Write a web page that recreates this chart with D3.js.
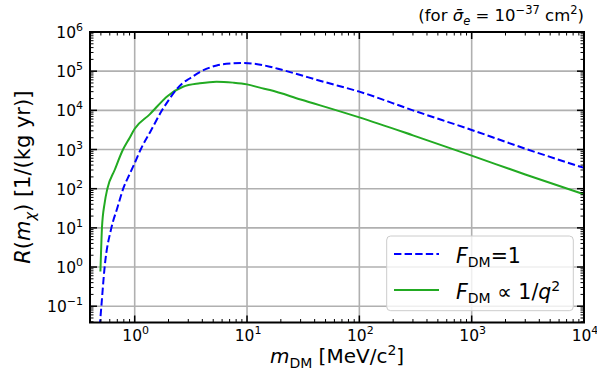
<!DOCTYPE html>
<html>
<head>
<meta charset="utf-8">
<script src="https://cdn.jsdelivr.net/npm/d3@7"></script>
<style>
  body { margin: 0; background: #fff; }
  text { font-family: "DejaVu Sans", sans-serif; fill: #000; }
</style>
</head>
<body>
<svg id="chart" width="597" height="374"></svg>
<script>
// mass in MeV/c^2, rate in 1/(kg yr)
const massF1 = [0.488, 0.505, 0.54, 0.62, 0.7, 0.79, 0.9, 1.0, 1.13, 1.4, 1.75, 2.0, 2.27, 2.68, 3.09, 3.8, 5.37, 7.5, 9, 12, 16, 20, 50, 100, 300, 1000, 3000, 10000]
const rateF1 = [0.03, 0.1, 1, 10, 32, 100, 233, 450, 1000, 3100, 1e4, 1.8e4, 3e4, 5e4, 6.5e4, 9.5e4, 1.4e5, 1.58e5, 1.61e5, 1.53e5, 1.3e5, 1.1e5, 5.2e4, 3.0e4, 1.0e4, 3.16e3, 1.05e3, 340]

const massQ2 = [0.495, 0.503, 0.511, 0.54, 0.571, 0.663, 0.787, 0.9, 1.0, 1.36, 1.98, 2.69, 3.8, 5.35, 7.5, 10, 13, 16, 30, 100, 300, 1000, 3000, 10000]
const rateQ2 = [0.77, 3, 10, 43, 100, 300, 1000, 1980, 3400, 7900, 2.37e4, 4.0e4, 4.9e4, 5.4e4, 5.1e4, 4.6e4, 3.8e4, 3.3e4, 1.9e4, 6.6e3, 2.3e3, 700, 230, 72]

const xTickExp = [0, 1, 2, 3, 4]
const yTickExp = [-1, 0, 1, 2, 3, 4, 5, 6]

const svg = d3.select("#chart")
const pLeft = 90, pRight = 584, pTop = 32, pBottom = 322.5

const x = d3.scaleLog().domain([0.4, 1e4]).range([pLeft, pRight])
const y = d3.scaleLog().domain([Math.pow(10, -1.416), 1e6]).range([pBottom, pTop])

// grid
const grid = svg.append("g")
grid.selectAll(".gx").data(xTickExp).enter().append("line")
    .attr("x1", d => x(Math.pow(10, d))).attr("x2", d => x(Math.pow(10, d)))
    .attr("y1", pTop).attr("y2", pBottom)
    .attr("stroke", "#b0b0b0").attr("stroke-width", 1.6)
grid.selectAll(".gy").data(yTickExp).enter().append("line")
    .attr("y1", d => y(Math.pow(10, d))).attr("y2", d => y(Math.pow(10, d)))
    .attr("x1", pLeft).attr("x2", pRight)
    .attr("stroke", "#b0b0b0").attr("stroke-width", 1.6)

svg.append("clipPath").attr("id", "plotclip")
    .append("rect").attr("x", pLeft).attr("y", pTop)
    .attr("width", pRight - pLeft).attr("height", pBottom - pTop)

const line = d3.line()
    .x(d => x(d[0]))
    .y(d => y(d[1]))
    .curve(d3.curveMonotoneX)

const curves = svg.append("g").attr("clip-path", "url(#plotclip)")
curves.append("path")
    .datum(d3.zip(massQ2, rateQ2))
    .attr("d", line)
    .attr("fill", "none")
    .attr("stroke", "#22aa22")
    .attr("stroke-width", 2)
curves.append("path")
    .datum(d3.zip(massF1, rateF1))
    .attr("d", line)
    .attr("fill", "none")
    .attr("stroke", "#0000ff")
    .attr("stroke-width", 2)
    .attr("stroke-dasharray", "7.4,3.2")

// ticks, pointing inward on all four sides
function logTicks(scale) {
    const [a, b] = scale.domain()
    const out = []
    for (let e = Math.floor(Math.log10(a)); e <= Math.ceil(Math.log10(b)); e++) {
        for (let m = 1; m <= 9; m++) {
            const v = m * Math.pow(10, e)
            if (v >= a * 0.9999 && v <= b * 1.0001) out.push({ v: v, major: m === 1 })
        }
    }
    return out
}
const ticks = svg.append("g").attr("stroke", "#000")
logTicks(x).forEach(t => {
    const len = t.major ? 7 : 3.5
    const px = x(t.v)
    ticks.append("line").attr("x1", px).attr("x2", px).attr("y1", pBottom).attr("y2", pBottom - len)
        .attr("stroke-width", t.major ? 1.5 : 1)
    ticks.append("line").attr("x1", px).attr("x2", px).attr("y1", pTop).attr("y2", pTop + len)
        .attr("stroke-width", t.major ? 1.5 : 1)
})
logTicks(y).forEach(t => {
    const len = t.major ? 7 : 3.5
    const py = y(t.v)
    ticks.append("line").attr("y1", py).attr("y2", py).attr("x1", pLeft).attr("x2", pLeft + len)
        .attr("stroke-width", t.major ? 1.5 : 1)
    ticks.append("line").attr("y1", py).attr("y2", py).attr("x1", pRight).attr("x2", pRight - len)
        .attr("stroke-width", t.major ? 1.5 : 1)
})

// frame
svg.append("rect").attr("x", pLeft).attr("y", pTop)
    .attr("width", pRight - pLeft).attr("height", pBottom - pTop)
    .attr("fill", "none").attr("stroke", "#000").attr("stroke-width", 2)

function powLabel(sel, exp) {
    sel.append("tspan").text("10")
    sel.append("tspan").attr("dy", -7).attr("font-size", 11)
        .text(exp < 0 ? "\u2212" + Math.abs(exp) : String(exp))
}

xTickExp.forEach(e => {
    const t = svg.append("text")
        .attr("x", x(Math.pow(10, e)) + 1).attr("y", 341)
        .attr("text-anchor", "middle").attr("font-size", 15.5)
    powLabel(t, e)
})
yTickExp.forEach(e => {
    const t = svg.append("text")
        .attr("x", 83).attr("y", y(Math.pow(10, e)) + 6)
        .attr("text-anchor", "end").attr("font-size", 15.5)
    powLabel(t, e)
})

// axis labels
const xl = svg.append("text").attr("x", (pLeft + pRight) / 2).attr("y", 363)
    .attr("text-anchor", "middle").attr("font-size", 20)
xl.append("tspan").attr("font-style", "italic").text("m")
xl.append("tspan").attr("font-size", 14).attr("dy", 4.5).text("DM")
xl.append("tspan").attr("dy", -4.5).text(" [MeV/c")
xl.append("tspan").attr("font-size", 14).attr("dy", -8).text("2")
xl.append("tspan").attr("dy", 8).text("]")

const yl = svg.append("text")
    .attr("transform", `translate(30, ${(pTop + pBottom) / 2}) rotate(-90)`)
    .attr("text-anchor", "middle").attr("font-size", 21)
yl.append("tspan").attr("font-style", "italic").text("R")
yl.append("tspan").text("(")
yl.append("tspan").attr("font-style", "italic").text("m")
yl.append("tspan").attr("font-style", "italic").attr("font-size", 14.5).attr("dy", 4.5).text("\u03c7")
yl.append("tspan").attr("dy", -4.5).text(") [1/(kg yr)]")

// note in the top right corner
const note = svg.append("text").attr("x", pRight).attr("y", 21)
    .attr("text-anchor", "end").attr("font-size", 16.5)
note.append("tspan").text("(for ")
note.append("tspan").attr("font-style", "italic").text("\u03c3\u0304")
note.append("tspan").attr("font-style", "italic").attr("font-size", 11.5).attr("dy", 3.5).text("e")
note.append("tspan").attr("dy", -3.5).text(" = 10")
note.append("tspan").attr("font-size", 11.5).attr("dy", -7).text("\u221237")
note.append("tspan").attr("dy", 7).text(" cm")
note.append("tspan").attr("font-size", 11.5).attr("dy", -7).text("2")
note.append("tspan").attr("dy", 7).text(")")

// legend
const lg = svg.append("g")
lg.append("rect").attr("x", 386.7).attr("y", 236).attr("width", 186.6).attr("height", 74.7)
    .attr("rx", 4).attr("fill", "#fff").attr("fill-opacity", 0.8)
    .attr("stroke", "#cccccc").attr("stroke-width", 1)
lg.append("line").attr("x1", 394).attr("x2", 439).attr("y1", 254).attr("y2", 254)
    .attr("stroke", "#0000ff").attr("stroke-width", 2).attr("stroke-dasharray", "7.4,3.2")
lg.append("line").attr("x1", 394).attr("x2", 439).attr("y1", 290).attr("y2", 290)
    .attr("stroke", "#22aa22").attr("stroke-width", 2)

const l1 = lg.append("text").attr("x", 456).attr("y", 263).attr("font-size", 20.5)
l1.append("tspan").attr("font-style", "italic").text("F")
l1.append("tspan").attr("font-size", 14).attr("dy", 4).text("DM")
l1.append("tspan").attr("dy", -4).text("=1")

const l2 = lg.append("text").attr("x", 456).attr("y", 299).attr("font-size", 20.5)
l2.append("tspan").attr("font-style", "italic").text("F")
l2.append("tspan").attr("font-size", 14).attr("dy", 4).text("DM")
l2.append("tspan").attr("dy", -4).text(" \u221d 1/")
l2.append("tspan").attr("font-style", "italic").text("q")
l2.append("tspan").attr("font-size", 14).attr("dy", -8).text("2")
</script>
</body>
</html>
